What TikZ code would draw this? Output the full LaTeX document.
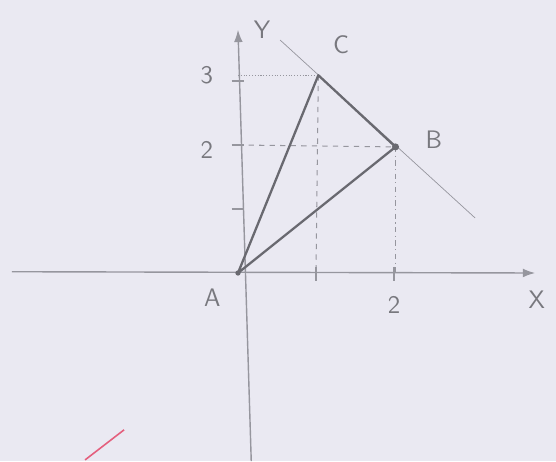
\documentclass[tikz,border=0pt]{standalone}
\usepackage{amsmath,xcolor,tikz}
\usetikzlibrary{arrows.meta}

\definecolor{paper}{RGB}{234,233,242}
\definecolor{pencil}{RGB}{105,105,112}
\definecolor{lightpencil}{RGB}{150,150,158}
\definecolor{redpen}{RGB}{228,95,125}

\begin{document}
\begin{tikzpicture}[x=1.56cm,y=1.28cm,
  axis/.style={lightpencil,line width=0.8pt,-{Latex[length=7pt,width=5pt]}},
  side/.style={pencil,line width=1.3pt,line join=round},
  guide/.style={lightpencil,line width=0.6pt},
  lab/.style={lightpencil!80!black,font=\sffamily\Large}]
\fill[paper] (-3.051,-2.9375) rectangle (4.077,4.2656);
\useasboundingbox (-3.051,-2.9375) rectangle (4.077,4.2656);
% axes
\coordinate (xl) at (-2.9,0.02);
\coordinate (xr) at (3.81,0);
\coordinate (yb) at (0.17,-2.94);
\coordinate (yt) at (0,3.80);
\draw[axis] (xl) -- (xr);
\draw[axis] (yb) -- (yt);
% ticks
\foreach \i in {1,2} {
  \draw[guide] (\i,0.1) -- (\i,-0.12);
}
\foreach \j in {1,2,3} {
  \draw[guide] (-0.08,\j) -- (0.08,\j);
}
% points of the triangle
\coordinate (A) at (0,0);
\coordinate (B) at (2.02,1.97);
\coordinate (C) at (1.03,3.09);
% line through C and B
\coordinate (lineS) at (0.54,3.64);
\coordinate (lineE) at (3.04,0.86);
\draw[guide,line width=0.4pt] (lineS) -- (lineE);
% guides to the axes
\draw[guide,densely dotted] (0,3.09) -- (C);
\draw[guide,dashed] (0,2) -- (B);
\draw[guide,dashed] (C) -- (1,0);
\draw[guide,dash dot] (B) -- (2.02,0);
% triangle
\draw[side] (A) -- (C) -- (B) -- cycle;
\fill[pencil] (B) circle (2pt);
\fill[pencil] (A) circle (1.5pt);
% labels
\node[lab] (labY) at (0.31,3.80) {Y};
\node[lab] (labC) at (1.32,3.56) {C};
\node[lab] (labB) at (2.51,2.08) {B};
\node[lab] (labA) at (-0.33,-0.39) {A};
\node[lab] (labX) at (3.83,-0.42) {X};
\node[lab] (lab3) at (-0.40,3.09) {3};
\node[lab] (lab2y) at (-0.40,1.92) {2};
\node[lab] (lab2x) at (2.0,-0.5) {2};
% red stroke
\coordinate (redS) at (-1.96,-2.92);
\coordinate (redE) at (-1.46,-2.45);
\draw[redpen,line width=0.9pt] (redS) -- (redE);
\end{tikzpicture}
\end{document}
